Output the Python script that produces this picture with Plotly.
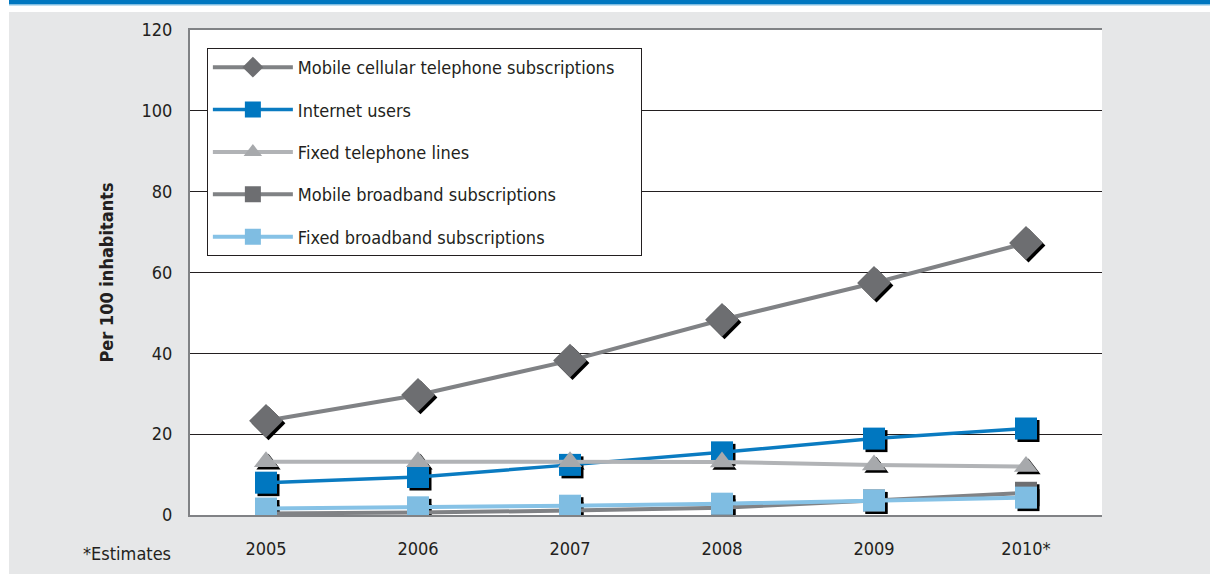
import plotly.graph_objects as go

years = ["2005", "2006", "2007", "2008", "2009", "2010*"]
mobile_cellular = [23.3, 29.7, 38.2, 48.3, 57.4, 67.3]
internet_users = [8.0, 9.4, 12.4, 15.5, 18.9, 21.4]
fixed_telephone = [13.2, 13.2, 13.2, 13.1, 12.4, 12.0]
mobile_broadband = [0.4, 0.6, 1.1, 1.8, 3.6, 5.5]
fixed_broadband = [1.6, 1.9, 2.3, 2.8, 3.6, 4.3]

series = [
    ("Mobile cellular telephone subscriptions", mobile_cellular, "#808285", "#6d6e71", "diamond", 26, 4),
    ("Internet users", internet_users, "#0a7bc1", "#0077c0", "square", 22, 3.5),
    ("Fixed telephone lines", fixed_telephone, "#b1b3b6", "#a7a9ac", "triangle-up", 21, 4),
    ("Mobile broadband subscriptions", mobile_broadband, "#808285", "#6d6e71", "square", 22, 4),
    ("Fixed broadband subscriptions", fixed_broadband, "#86c2e6", "#7fbde2", "square", 22, 4),
]

FONT = "Liberation Sans Narrow, Arial Narrow, DejaVu Sans Condensed, sans-serif"
W, H = 1210, 574
L, R, T, B = 190, 108, 30, 59
pw, ph = W - L - R, H - T - B
PAD = "\u00a0" * 4

fig = go.Figure()

# drop shadows for markers (base axes, shifted range)
for name, vals, lc, mc, sym, sz, lw in series:
    fig.add_trace(go.Scatter(
        x=list(range(len(years))), y=vals, mode="markers",
        marker=dict(symbol=sym, size=sz, color="#000000", line=dict(width=0)),
        showlegend=False, hoverinfo="skip", xaxis="x", yaxis="y"))

# main series (overlay axes)
for i, (name, vals, lc, mc, sym, sz, lw) in enumerate(series):
    fig.add_trace(go.Scatter(
        x=list(range(len(years))), y=vals, mode="lines+markers", name=name + PAD,
        line=dict(color=lc, width=lw),
        marker=dict(symbol=sym, size=sz, color=mc, line=dict(width=0)),
        legendgroup=f"g{i}", xaxis="x2", yaxis="y2"))

dx = 2.5 * 6 / pw
dy = 2.5 * 120 / ph

fig.update_layout(
    width=W, height=H,
    margin=dict(l=L, r=R, t=T, b=B, pad=0),
    paper_bgcolor="#e6e7e8",
    plot_bgcolor="#ffffff",
    font=dict(family=FONT, size=18, color="#231f20"),
    xaxis=dict(range=[-0.5 - dx, 5.5 - dx], showticklabels=False, showgrid=False,
               zeroline=False, showline=False, fixedrange=True),
    yaxis=dict(range=[0 + dy, 120 + dy], showticklabels=False, showgrid=False,
               zeroline=False, showline=False, fixedrange=True),
    xaxis2=dict(overlaying="x", range=[-0.5, 5.5], tickmode="array",
                tickvals=list(range(len(years))), ticktext=years,
                showgrid=False, zeroline=False, showline=True, mirror=True,
                linecolor="#808285", linewidth=2, ticks="", ticklabelstandoff=16,
                tickfont=dict(size=18)),
    yaxis2=dict(overlaying="y", range=[0, 120], dtick=20, showgrid=True,
                gridcolor="#231f20", gridwidth=1, zeroline=False, showline=True,
                linecolor="#808285", linewidth=2, ticks="", ticklabelstandoff=12,
                tickfont=dict(size=18),
                title=dict(text="<b>Per 100 inhabitants</b>", standoff=23,
                           font=dict(size=18))),
    legend=dict(x=0.0185, y=0.963, xanchor="left", yanchor="top",
                bgcolor="#ffffff", bordercolor="#231f20", borderwidth=1,
                font=dict(size=18), itemwidth=80, tracegroupgap=16,
                traceorder="grouped"),
    showlegend=True,
)

def px_x(p):
    return (p - L) / pw

def px_y(p):
    return (H - B - p) / ph

fig.update_layout(shapes=[
    dict(type="rect", xref="paper", yref="paper", x0=px_x(0), x1=px_x(W), y0=px_y(12), y1=px_y(0),
         fillcolor="#ffffff", line=dict(width=0), layer="below"),
    dict(type="rect", xref="paper", yref="paper", x0=px_x(0), x1=px_x(9), y0=px_y(H), y1=px_y(0),
         fillcolor="#ffffff", line=dict(width=0), layer="below"),
    dict(type="rect", xref="paper", yref="paper", x0=px_x(9), x1=px_x(W), y0=px_y(5.5), y1=px_y(4),
         fillcolor="#7fbde2", line=dict(width=0), layer="below"),
    dict(type="rect", xref="paper", yref="paper", x0=px_x(9), x1=px_x(W), y0=px_y(4), y1=px_y(0),
         fillcolor="#0077c0", line=dict(width=0), layer="below"),
])

fig.add_annotation(text="*Estimates", xref="paper", yref="paper", x=px_x(173), y=px_y(553),
                   xanchor="right", yanchor="middle", showarrow=False, font=dict(size=18))

fig.write_html("out.html", config={"displayModeBar": False},
               post_script="document.body.style.margin='0px';document.body.style.overflow='hidden';")
